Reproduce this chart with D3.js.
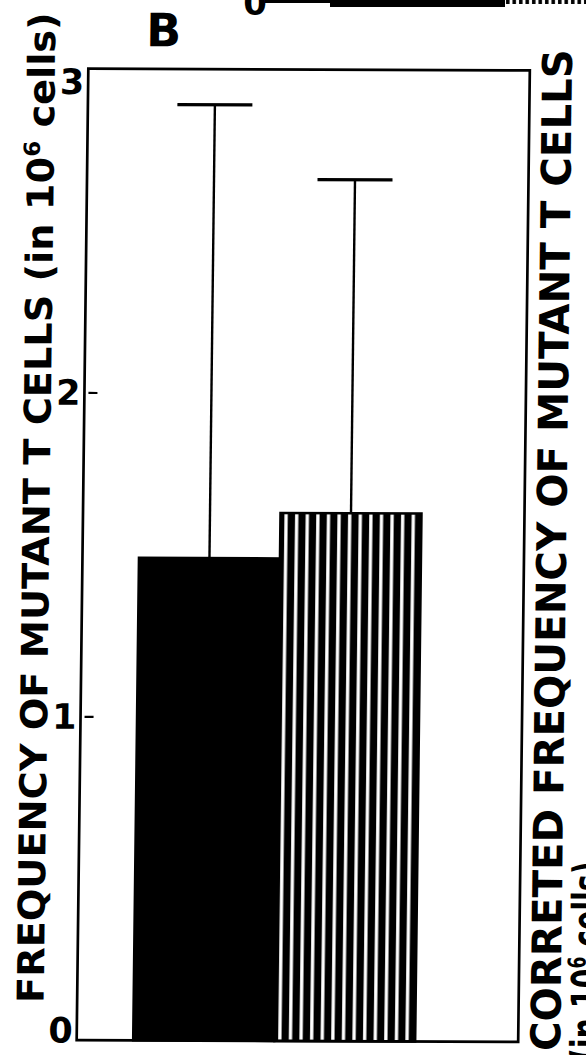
<!DOCTYPE html>
<html>
<head>
<meta charset="utf-8">
<script src="https://cdn.jsdelivr.net/npm/d3@7"></script>
<style>
  html, body { margin: 0; padding: 0; background: #fff; }
  svg { display: block; }
</style>
</head>
<body>
<svg id="chart" width="586" height="1055"></svg>
<script>
// Panel B: mean frequency of mutant T cells, raw vs corrected, with upper error bars
const groups = ["Frequency", "Corrected frequency"];
const means = [1.49, 1.63];
const upperLimits = [2.89, 2.66];
const yTicks = [0, 1, 2, 3];
const fills = ["solid", "stripes"];

const W = 586, H = 1055;
const frame = { left: 82.5, top: 69.5, right: 524, bottom: 1041 };
const FONT = "DejaVu Sans";

const svg = d3.select("#chart");
const defs = svg.append("defs");

const y = d3.scaleLinear().domain([0, 3]).range([frame.bottom, frame.top]);
const x = d3.scaleBand().domain(groups).range([139, 421]).padding(0);

// vertical stripe fill for the corrected-frequency bar
const stripe = defs.append("pattern")
  .attr("id", "stripes")
  .attr("patternUnits", "userSpaceOnUse")
  .attr("x", x(groups[1]))
  .attr("y", 0)
  .attr("width", 10.6)
  .attr("height", 20);
stripe.append("rect").attr("width", 10.6).attr("height", 20).attr("fill", "#000");
stripe.append("rect").attr("x", 4).attr("width", 3.3).attr("height", 20).attr("fill", "#fff");

// bottom edge of the panel above
const above = svg.append("g");
const xA = d3.scaleBand().domain(groups).range([330, 680]).padding(0);
const stripeA = defs.append("pattern")
  .attr("id", "stripesA").attr("patternUnits", "userSpaceOnUse")
  .attr("x", xA(groups[1])).attr("width", 6.5).attr("height", 20);
stripeA.append("rect").attr("width", 6.5).attr("height", 20).attr("fill", "#fff");
stripeA.append("rect").attr("x", 1).attr("width", 3.5).attr("height", 20).attr("fill", "#000");
above.append("line")
  .attr("x1", 265).attr("x2", W).attr("y1", 1.5).attr("y2", 1.5)
  .attr("stroke", "#000").attr("stroke-width", 3);
above.selectAll("rect.a").data(groups).join("rect")
  .attr("class", "a")
  .attr("x", d => xA(d)).attr("width", xA.bandwidth())
  .attr("y", -20).attr("height", (d, i) => i === 0 ? 27 : 24)
  .attr("fill", (d, i) => i === 0 ? "#000" : "url(#stripesA)");
above.append("text")
  .attr("x", 267).attr("y", 15)
  .attr("text-anchor", "end")
  .attr("font-family", FONT).attr("font-weight", "bold").attr("font-size", 34)
  .text("0");

// main panel, slightly sheared like the printed figure
const cx = 304, cy = 555, shY = 0.004, shX = -0.012;
const chart = svg.append("g")
  .attr("transform", `matrix(1,${shY},${shX},1,${-shX * cy},${-shY * cx})`);

// bars
chart.selectAll("rect.bar").data(groups).join("rect")
  .attr("class", "bar")
  .attr("x", d => x(d))
  .attr("width", x.bandwidth())
  .attr("y", (d, i) => y(means[i]))
  .attr("height", (d, i) => y(0) - y(means[i]))
  .attr("fill", (d, i) => fills[i] === "solid" ? "#000" : "url(#stripes)")
  .attr("stroke", "#000")
  .attr("stroke-width", 2.5);

// upper error bars
const capHalf = 37.5;
const err = chart.selectAll("g.err").data(groups).join("g").attr("class", "err");
err.append("line")
  .attr("x1", d => x(d) + x.bandwidth() / 2)
  .attr("x2", d => x(d) + x.bandwidth() / 2)
  .attr("y1", (d, i) => y(means[i]))
  .attr("y2", (d, i) => y(upperLimits[i]))
  .attr("stroke", "#000").attr("stroke-width", 2.4);
err.append("line")
  .attr("x1", d => x(d) + x.bandwidth() / 2 - capHalf)
  .attr("x2", d => x(d) + x.bandwidth() / 2 + capHalf)
  .attr("y1", (d, i) => y(upperLimits[i]))
  .attr("y2", (d, i) => y(upperLimits[i]))
  .attr("stroke", "#000").attr("stroke-width", 3.2);

// frame
chart.append("rect")
  .attr("x", frame.left).attr("y", frame.top)
  .attr("width", frame.right - frame.left)
  .attr("height", frame.bottom - frame.top)
  .attr("fill", "none").attr("stroke", "#000").attr("stroke-width", 2.7);

// left axis: inner tick marks set off from the frame, labels outside
const axis = chart.append("g")
  .attr("transform", `translate(${frame.left},0)`)
  .call(d3.axisLeft(y).tickValues(yTicks).tickFormat(d3.format("d"))
    .tickSizeInner(-13).tickSizeOuter(0).tickPadding(4));
axis.select(".domain").remove();
axis.selectAll(".tick line")
  .attr("x1", 4).attr("x2", 13)
  .attr("stroke", "#000").attr("stroke-width", 2.2)
  .attr("opacity", d => (d === 0 || d === 3) ? 0 : 1);
axis.selectAll(".tick text")
  .attr("font-family", FONT).attr("font-weight", "bold").attr("font-size", 35)
  .attr("fill", "#000")
  .attr("dy", null)
  .attr("dominant-baseline", "central")
  .attr("y", d => {
    const p = y(d);
    const c = Math.min(Math.max(p, frame.top + 13), frame.bottom - 10);
    return c - p;
  });

// panel letter
chart.append("text")
  .attr("x", 140).attr("y", 47)
  .attr("font-family", FONT).attr("font-weight", "bold").attr("font-size", 46)
  .text("B");

// rotated titles fitted to a given span
function fittedTitle(parent, parts, size, bx, y0, y1) {
  const t = parent.append("text")
    .attr("font-family", FONT).attr("font-weight", "bold").attr("font-size", size);
  parts.forEach(p => {
    const s = t.append("tspan").text(p.text);
    if (p.sup) s.attr("font-size", size * 0.6).attr("dy", -size * 0.38);
    if (p.after) s.attr("dy", size * 0.38);
  });
  const len = t.node().getComputedTextLength();
  const k = (y0 - y1) / len;
  t.attr("transform", `translate(${bx},${y0}) rotate(-90) scale(${k},1)`);
  return t;
}

fittedTitle(chart, [
  { text: "FREQUENCY OF MUTANT T CELLS (in 10" },
  { text: "6", sup: true },
  { text: " cells)", after: true }
], 37, 49, 1004, 13);

fittedTitle(chart, [
  { text: "CORRETED FREQUENCY OF MUTANT T CELLS" }
], 41, 566, 1050, 48);

fittedTitle(chart, [
  { text: "(in 10" },
  { text: "6", sup: true },
  { text: " cells)", after: true }
], 41, 606, 1060, 860);
</script>
</body>
</html>
